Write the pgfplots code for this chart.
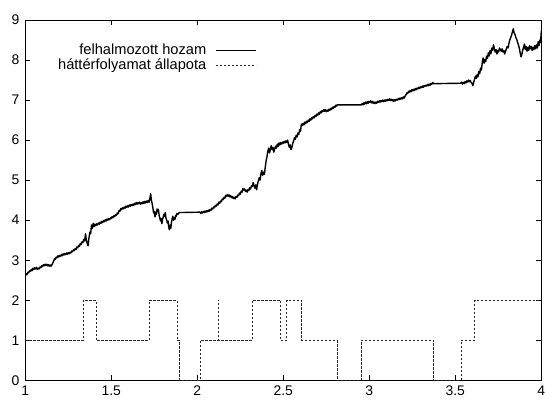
\documentclass[border=0pt]{standalone}
\usepackage{pgfplots}
\pgfplotsset{compat=1.18}
\usepackage{fontspec}
\setmainfont{Liberation Sans}
\begin{document}
\fontsize{14}{16}\selectfont
\begin{tikzpicture}
\useasboundingbox (-25.3bp,-20.7bp) rectangle (519.7bp,380.3bp);
\begin{axis}[
  scale only axis, width=516bp, height=360.3bp,
  xmin=1, xmax=4, ymin=0, ymax=9,
  xtick={1,1.5,2,2.5,3,3.5,4},
  xticklabels={1,1.5,2,2.5,3,3.5,4},
  ytick={0,1,2,3,4,5,6,7,8,9},
  /pgf/number format/assume math mode=true,
  tick align=inside, major tick length=5bp,
  tick style={black, line width=0.6bp},
  axis line style={black, line width=0.8bp},
  ticklabel style={font=\fontsize{14}{16}\selectfont},
  yticklabel style={xshift=-1bp},
  xticklabel style={yshift=-1bp},
  legend plot pos=right,
  legend cell align=right,
  legend image code/.code={\path (0bp,0bp); \draw[#1, line width=0.7bp] (8bp,0bp) -- (48bp,0bp);},
  legend style={draw=none, fill=none, at={(rel axis cs:0.453,0.942)}, anchor=north east,
    font=\fontsize{14.7}{16}\selectfont,
    nodes={inner sep=0.5bp, text height=10.5bp, text depth=3.5bp}},
]
\addplot[black, line width=1.4bp, line join=round] coordinates {
(1.000,2.60)(1.005,2.66)(1.010,2.64)(1.015,2.70)(1.020,2.69)(1.025,2.74)(1.030,2.72)(1.035,2.77)(1.040,2.74)(1.045,2.80)
(1.050,2.77)(1.055,2.81)(1.060,2.78)(1.065,2.82)(1.070,2.77)(1.075,2.80)(1.080,2.78)(1.085,2.83)(1.090,2.81)(1.095,2.86)
(1.100,2.84)(1.105,2.89)(1.110,2.86)(1.115,2.90)(1.120,2.87)(1.125,2.90)(1.130,2.86)(1.135,2.89)(1.140,2.85)(1.145,2.88)
(1.150,2.85)(1.155,2.89)(1.160,2.93)(1.165,2.98)(1.170,3.04)(1.175,3.02)(1.180,3.08)(1.185,3.06)(1.190,3.11)(1.195,3.08)
(1.200,3.12)(1.205,3.10)(1.210,3.14)(1.215,3.11)(1.220,3.16)(1.225,3.13)(1.230,3.17)(1.235,3.14)(1.240,3.18)(1.245,3.15)
(1.250,3.19)(1.255,3.16)(1.260,3.20)(1.265,3.18)(1.270,3.23)(1.275,3.21)(1.280,3.26)(1.285,3.24)(1.290,3.29)(1.295,3.27)
(1.300,3.33)(1.305,3.31)(1.310,3.37)(1.315,3.35)(1.320,3.42)(1.325,3.39)(1.330,3.46)(1.335,3.44)(1.340,3.52)(1.345,3.48)
(1.350,3.66)(1.355,3.50)(1.360,3.42)(1.365,3.36)(1.370,3.55)(1.375,3.70)(1.380,3.66)(1.385,3.88)(1.390,3.80)(1.395,3.92)
(1.400,3.84)(1.405,3.90)(1.410,3.86)(1.415,3.91)(1.420,3.88)(1.425,3.93)(1.430,3.90)(1.435,3.95)(1.440,3.92)(1.445,3.97)
(1.450,3.94)(1.455,3.99)(1.460,3.96)(1.465,4.01)(1.470,3.98)(1.475,4.03)(1.480,4.00)(1.485,4.04)(1.490,4.01)(1.495,4.06)
(1.500,4.04)(1.505,4.09)(1.510,4.06)(1.515,4.11)(1.520,4.09)(1.525,4.14)(1.530,4.12)(1.535,4.18)(1.540,4.16)(1.545,4.24)
(1.550,4.22)(1.555,4.29)(1.560,4.26)(1.565,4.31)(1.570,4.28)(1.575,4.33)(1.580,4.30)(1.585,4.35)(1.590,4.32)(1.595,4.36)
(1.600,4.33)(1.605,4.38)(1.610,4.35)(1.615,4.39)(1.620,4.36)(1.625,4.40)(1.630,4.37)(1.635,4.42)(1.640,4.39)(1.645,4.44)
(1.650,4.40)(1.655,4.44)(1.660,4.41)(1.665,4.45)(1.670,4.40)(1.675,4.44)(1.680,4.41)(1.685,4.46)(1.690,4.42)(1.695,4.47)
(1.700,4.43)(1.705,4.48)(1.710,4.44)(1.715,4.49)(1.720,4.45)(1.725,4.56)(1.729,4.66)(1.733,4.50)(1.738,4.40)(1.742,4.30)
(1.746,4.18)(1.750,4.22)(1.754,4.08)(1.758,4.20)(1.762,4.14)(1.766,4.28)(1.770,4.22)(1.774,4.27)(1.778,4.12)(1.782,4.06)
(1.786,3.98)(1.790,4.04)(1.794,3.91)(1.798,4.02)(1.802,4.08)(1.806,4.15)(1.810,4.10)(1.814,4.19)(1.818,4.05)(1.822,4.00)
(1.826,3.93)(1.830,3.98)(1.834,3.82)(1.838,3.76)(1.842,3.88)(1.846,3.80)(1.850,3.95)(1.854,4.04)(1.858,4.10)(1.862,4.00)
(1.866,4.06)(1.870,4.02)(1.874,4.12)(1.878,4.10)(1.882,4.17)(1.888,4.15)(1.895,4.19)
(2.015,4.20)(2.020,4.17)(2.025,4.21)(2.030,4.18)(2.035,4.22)(2.040,4.19)(2.045,4.23)(2.050,4.20)(2.055,4.24)(2.060,4.21)
(2.065,4.25)(2.070,4.22)(2.075,4.27)(2.080,4.25)(2.085,4.30)(2.090,4.28)(2.095,4.33)(2.100,4.31)(2.105,4.37)(2.110,4.35)
(2.115,4.40)(2.120,4.38)(2.125,4.45)(2.130,4.42)(2.135,4.48)(2.140,4.46)(2.145,4.53)(2.150,4.51)(2.155,4.57)(2.160,4.55)
(2.165,4.62)(2.170,4.59)(2.175,4.64)(2.180,4.60)(2.185,4.63)(2.190,4.58)(2.195,4.61)(2.200,4.56)(2.205,4.59)(2.210,4.54)
(2.215,4.57)(2.220,4.53)(2.225,4.59)(2.230,4.57)(2.235,4.63)(2.240,4.61)(2.245,4.68)(2.250,4.65)(2.255,4.72)(2.260,4.70)
(2.265,4.79)(2.270,4.75)(2.275,4.78)(2.280,4.72)(2.285,4.75)(2.290,4.70)(2.295,4.77)(2.300,4.74)(2.305,4.81)(2.310,4.78)
(2.315,4.86)(2.320,4.84)(2.325,4.94)(2.330,4.86)(2.335,4.80)(2.340,4.88)(2.345,4.76)(2.350,4.90)(2.355,4.98)(2.360,5.06)
(2.365,5.00)(2.370,5.16)(2.375,5.24)(2.380,5.12)(2.385,5.20)(2.390,5.14)(2.395,5.32)(2.400,5.48)(2.405,5.58)(2.410,5.72)
(2.415,5.80)(2.420,5.68)(2.425,5.78)(2.430,5.86)(2.435,5.76)(2.440,5.82)(2.445,5.70)(2.450,5.78)(2.455,5.85)(2.460,5.80)
(2.465,5.90)(2.470,5.84)(2.475,5.93)(2.480,5.88)(2.485,5.94)(2.490,5.90)(2.495,5.95)(2.500,5.92)(2.505,5.97)(2.510,5.93)
(2.515,5.98)(2.520,5.94)(2.525,6.00)(2.530,5.90)(2.535,5.82)(2.540,5.88)(2.545,5.76)(2.550,5.82)(2.555,5.92)(2.560,5.98)
(2.565,6.06)(2.570,6.02)(2.575,6.12)(2.580,6.08)(2.585,6.18)(2.590,6.14)(2.595,6.26)(2.600,6.22)(2.605,6.40)(2.610,6.36)
(2.615,6.42)(2.620,6.38)(2.625,6.45)(2.630,6.41)(2.635,6.47)(2.640,6.44)(2.645,6.50)(2.650,6.47)(2.655,6.53)(2.660,6.50)
(2.665,6.56)(2.670,6.53)(2.675,6.59)(2.680,6.56)(2.685,6.62)(2.690,6.59)(2.695,6.65)(2.700,6.62)(2.705,6.68)(2.710,6.65)
(2.715,6.71)(2.720,6.68)(2.725,6.74)(2.730,6.71)(2.735,6.76)(2.740,6.72)(2.745,6.76)(2.750,6.71)(2.755,6.75)(2.760,6.72)
(2.765,6.77)(2.770,6.74)(2.775,6.79)(2.780,6.76)(2.785,6.82)(2.790,6.79)(2.795,6.84)(2.800,6.82)(2.805,6.87)(2.810,6.85)
(2.813,6.88)(2.953,6.88)
(2.958,6.91)(2.963,6.88)(2.968,6.93)(2.973,6.90)(2.978,6.95)(2.983,6.91)(2.988,6.96)(2.993,6.92)(2.998,6.97)(3.003,6.94)
(3.008,6.98)(3.013,6.93)(3.018,6.97)(3.023,6.92)(3.028,6.95)(3.033,6.91)(3.038,6.95)(3.043,6.92)(3.048,6.97)(3.053,6.94)
(3.058,6.98)(3.063,6.95)(3.068,6.99)(3.073,6.96)(3.078,7.00)(3.083,6.96)(3.088,7.00)(3.093,6.97)(3.098,7.01)(3.103,6.98)
(3.108,7.02)(3.113,6.99)(3.118,7.03)(3.123,6.99)(3.128,7.02)(3.133,6.98)(3.138,7.01)(3.143,6.97)(3.148,7.01)(3.153,6.98)
(3.158,7.02)(3.163,7.00)(3.168,7.04)(3.173,7.01)(3.178,7.05)(3.183,7.02)(3.188,7.06)(3.193,7.03)(3.198,7.08)(3.203,7.05)
(3.208,7.10)(3.213,7.13)(3.218,7.18)(3.223,7.16)(3.228,7.22)(3.233,7.19)(3.238,7.24)(3.243,7.21)(3.248,7.26)(3.253,7.23)
(3.258,7.27)(3.263,7.24)(3.268,7.29)(3.273,7.26)(3.278,7.30)(3.283,7.28)(3.288,7.32)(3.293,7.29)(3.298,7.33)(3.303,7.31)
(3.308,7.35)(3.313,7.32)(3.318,7.36)(3.323,7.34)(3.328,7.37)(3.333,7.35)(3.338,7.39)(3.343,7.36)(3.348,7.40)(3.353,7.37)
(3.358,7.41)(3.363,7.39)(3.368,7.44)(3.374,7.41)
(3.532,7.42)(3.537,7.45)(3.542,7.40)(3.547,7.44)(3.552,7.41)(3.557,7.46)(3.562,7.43)(3.567,7.48)(3.572,7.45)(3.577,7.50)
(3.582,7.46)(3.587,7.49)(3.592,7.44)(3.597,7.42)(3.602,7.36)(3.607,7.45)(3.612,7.52)(3.617,7.60)(3.622,7.54)(3.627,7.64)
(3.632,7.58)(3.637,7.72)(3.642,7.66)(3.647,7.80)(3.652,7.75)(3.657,7.95)(3.662,8.05)(3.667,7.92)(3.672,8.02)(3.677,7.96)
(3.682,8.10)(3.687,8.04)(3.692,8.18)(3.697,8.10)(3.702,8.24)(3.707,8.16)(3.712,8.30)(3.717,8.24)(3.722,8.38)(3.727,8.28)
(3.732,8.20)(3.737,8.26)(3.742,8.15)(3.747,8.24)(3.752,8.20)(3.757,8.30)(3.762,8.26)(3.767,8.22)(3.772,8.28)(3.777,8.20)
(3.782,8.24)(3.787,8.15)(3.792,8.22)(3.797,8.28)(3.802,8.34)(3.807,8.30)(3.812,8.42)(3.817,8.50)(3.822,8.56)(3.827,8.62)
(3.832,8.70)(3.837,8.78)(3.842,8.68)(3.847,8.64)(3.852,8.56)(3.857,8.52)(3.862,8.44)(3.867,8.38)(3.872,8.30)(3.877,8.18)
(3.882,8.08)(3.887,8.14)(3.892,8.25)(3.897,8.32)(3.902,8.40)(3.907,8.26)(3.912,8.34)(3.917,8.22)(3.922,8.32)(3.927,8.24)
(3.932,8.36)(3.937,8.28)(3.942,8.34)(3.947,8.24)(3.952,8.32)(3.957,8.26)(3.962,8.36)(3.967,8.28)(3.972,8.38)(3.977,8.30)
(3.982,8.46)(3.987,8.36)(3.992,8.50)(3.996,8.44)(4.000,8.72)
};
\addlegendentry{felhalmozott hozam}
\addplot[const plot, black!85, line width=0.6bp, dash pattern=on 2.5bp off 1.5bp] coordinates {
(1,1)(1.338,2)(1.41,1)(1.72,2)(1.881,1)(1.895,0)(2.015,1)(2.120,2)(2.124,1)(2.318,2)
(2.483,1)(2.520,2)(2.607,1)(2.813,0)(2.953,1)(3.374,0)(3.532,1)(3.613,2)(4,2)
};
\addlegendentry{háttérfolyamat állapota}
\end{axis}
\end{tikzpicture}
\end{document}
